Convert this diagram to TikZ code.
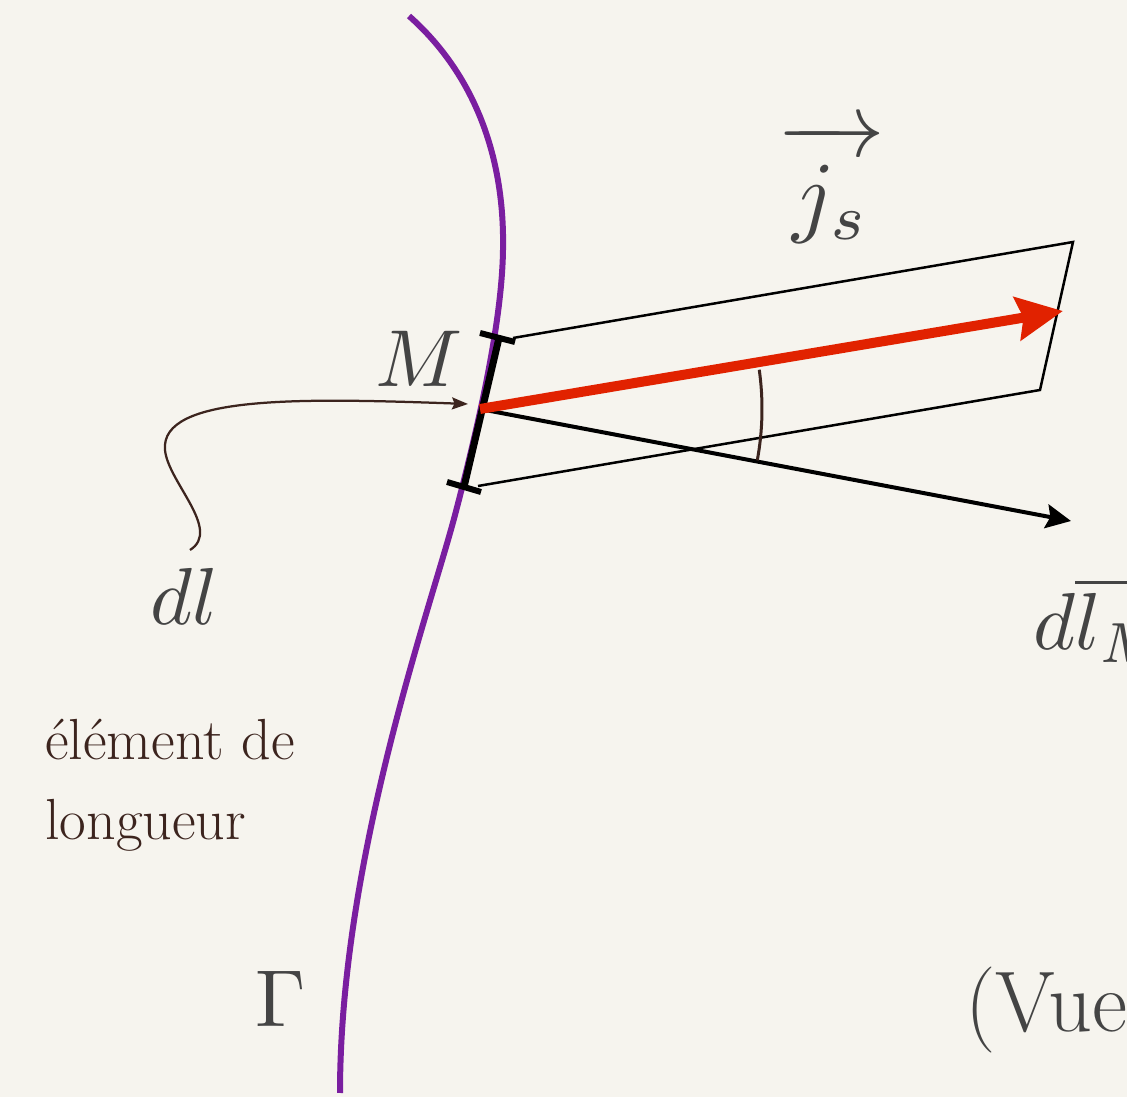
\documentclass[tikz,border=0pt]{standalone}
\usetikzlibrary{arrows.meta}
\definecolor{bg}{RGB}{246,244,238}
\definecolor{txt}{RGB}{68,68,68}
\definecolor{brn}{RGB}{60,36,30}
\definecolor{purp}{RGB}{122,30,160}
\definecolor{redv}{RGB}{225,34,0}
\newcommand{\myBigLbl}[1]{\scalebox{4.6}{#1}}
\newcommand{\myBiggerLbl}[1]{\scalebox{5.2}{#1}}
\tikzset{
  lbl/.style={inner sep=0pt, text=txt},
  brownlbl/.style={inner sep=0pt, text=brn, font=\fontsize{33}{44}\selectfont},
  curvepurple/.style={draw=purp, line width=0.12cm},
  thinblack/.style={draw=black, line width=0.05cm},
  thickseg/.style={draw=black, line width=0.14cm},
  tickmark/.style={draw=black, line width=0.12cm},
  redvec/.style={draw=redv, line width=0.2cm, -{Stealth[length=0.92cm,width=0.86cm,inset=0.12cm]}},
  blackvec/.style={draw=black, line width=0.08cm, -{Stealth[length=0.5cm,width=0.48cm,inset=0.08cm]}},
  anglearc/.style={draw=brn, line width=0.06cm},
  pointer/.style={draw=brn, line width=0.045cm, -{Stealth[length=0.32cm,width=0.24cm,inset=0.05cm]}}
}
\begin{document}
\begin{tikzpicture}[x=0.02cm,y=-0.02cm]
\useasboundingbox (0,0) rectangle (1127,1097);
\fill[bg] (0,0) rectangle (1127,1097);
\clip (0,0) rectangle (1127,1097);

% key points
\coordinate (M) at (480,409);
\coordinate (P1) at (513,338);
\coordinate (P2) at (1073,242);
\coordinate (P3) at (1040,390);
\coordinate (P4) at (478,486);
\coordinate (segTop) at (499,338);
\coordinate (segBot) at (464,487);
\coordinate (tickTa) at (480,333);
\coordinate (tickTb) at (515,342);
\coordinate (tickBa) at (447,482);
\coordinate (tickBb) at (481,492);
\coordinate (jtip) at (1063,311);
\coordinate (dltip) at (1071,521);
\coordinate (dlstart) at (190,550);
\coordinate (dlend) at (468,404);

% parallelogram (surface strip)
\draw[thinblack, line join=miter] (P1) -- (P2) -- (P3) -- (P4);

% curve Gamma
\draw[curvepurple] (409,16) .. controls (470,70) and (505,150) .. (503,250)
   .. controls (502,320) and (480,420) .. (455,515)
   .. controls (430,610) and (340,860) .. (340,1093);

% element dl
\draw[thickseg] (segTop) -- (segBot);
\draw[tickmark] (tickTa) -- (tickTb);
\draw[tickmark] (tickBa) -- (tickBb);

% vectors
\draw[blackvec] (M) -- (dltip);
\draw[redvec] (M) -- (jtip);

% angle
\draw[anglearc] (M) ++(-8:282) arc[start angle=-8, end angle=10.5, radius=282];

% labels
\node[lbl, anchor=base] (Mlbl) at (419,387) {\myBigLbl{$M$}};
\node[lbl, anchor=base west] (js) at (777,226) {\myBiggerLbl{$\overrightarrow{\,\rule{0pt}{0.86em}j_s\,}$}};
\node[lbl, anchor=base west] (dlM) at (1033,650) {\myBigLbl{$d\overline{l_M}$}};
\node[lbl, anchor=base west] (dl) at (150,625) {\myBigLbl{$dl$}};
\node[lbl, anchor=base west] (gam) at (255,1027) {\myBigLbl{$\Gamma$}};
\node[lbl, font=\fontsize{49}{58}\selectfont, anchor=base west] (vue) at (965,1032) {(Vue};
\node[brownlbl, anchor=base west] (el1) at (45,760) {élément de};
\node[brownlbl, anchor=base west] (el2) at (45,840) {longueur};

% pointer from dl label to M
\draw[pointer] (dlstart) .. controls (222,530) and (168,482) .. (165,450)
   .. controls (160,395) and (300,398) .. (dlend);
\end{tikzpicture}
\end{document}
